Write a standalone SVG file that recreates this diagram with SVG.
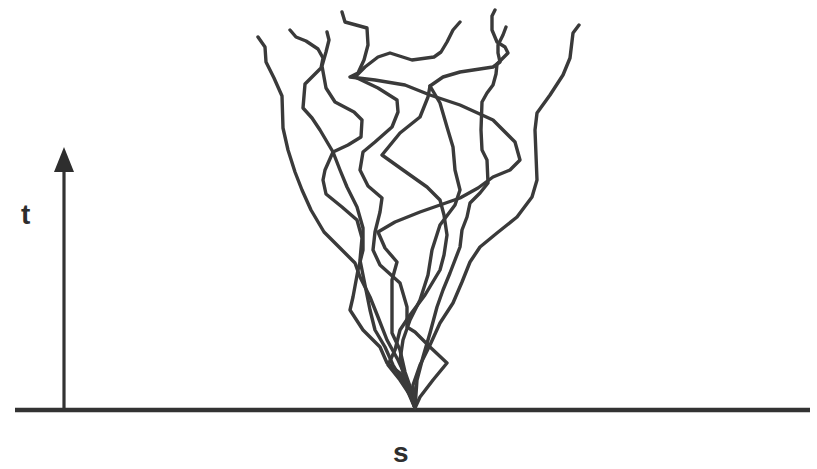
<svg xmlns="http://www.w3.org/2000/svg" width="817" height="469" viewBox="0 0 817 469">
<style>
.w{fill:none;stroke:#3a3a3a;stroke-width:3.4;stroke-linejoin:round;stroke-linecap:round}
.ax{stroke:#333;fill:none}
.lbl{font-family:"Liberation Sans",Arial,sans-serif;font-weight:bold;font-size:28px;fill:#2e2e2e}
</style>
<rect width="817" height="469" fill="#fff"/>
<g id="axes">
<line class="ax" x1="15" y1="410" x2="810" y2="410" stroke-width="4.5"/>
<line class="ax" x1="64" y1="410" x2="64" y2="168" stroke-width="3.2"/>
<polygon points="64,147 54,172 74,172" fill="#2e2e2e"/>
<text class="lbl" x="21" y="224">t</text>
<text class="lbl" x="393" y="462">s</text>
</g>
<g id="walks">
<polyline class="w" points="258,37 265,47 266,62 274,78 282,96 283,128 288,150 295,172 302,190 311,210 324,232 340,248 355,263 360,277 370,297 378,317 387,340 398,360 405,375 410,390 415,408"/>
<polyline class="w" points="290,30 296,37 306,41 318,49 323,58 321,68 305,84 303,108 312,118 320,130 333,152 340,170 347,187 357,207 363,228 363,250 358,270 353,297 350,310 363,330 380,347 387,363 400,373 410,387 415,408"/>
<polyline class="w" points="327,32 329,40 326,52 322,66 326,88 335,102 354,112 362,120 361,137 348,145 333,152 325,170 323,180 326,194 342,207 357,220 362,238 360,260 365,285 370,310 375,330 385,347 393,365 405,385 415,408"/>
<polyline class="w" points="342,12 345,22 367,28 368,45 364,60 358,73 350,77 375,80 405,85 430,95 460,105 493,120 515,142 520,160 510,170 493,177 478,188 460,198 440,205 420,212 395,222 378,232 385,248 397,262 392,280 392,307 392,333 400,350 405,372 412,392 415,408"/>
<polyline class="w" points="460,22 453,30 447,42 441,52 434,57 412,60 390,53 378,57 365,67 355,77 378,88 397,100 398,112 392,127 375,142 363,152 360,170 368,186 382,198 380,212 375,232 373,250 380,265 400,283 407,307 407,327 415,332 430,347 447,363 433,380 420,397 415,408"/>
<polyline class="w" points="495,10 492,16 492,30 497,42 505,47 508,53 503,58 497,64 496,74 493,85 487,93 482,102 481,130 482,150 487,160 488,183 480,193 470,203 467,217 462,230 460,247 450,273 443,290 437,307 430,333 423,357 417,380 415,408"/>
<polyline class="w" points="506,27 503,35 498,45 498,53 500,62 493,67 460,72 443,77 430,86 428,97 420,117 400,133 382,155 403,170 427,187 440,200 444,215 447,235 444,255 440,270 425,295 410,315 400,330 395,350 388,365 400,380 410,395 415,408"/>
<polyline class="w" points="579,25 573,33 570,58 563,75 550,95 537,113 535,130 537,180 532,197 517,217 497,233 480,247 470,262 462,282 453,303 440,323 430,345 420,365 413,385 415,408"/>
<polyline class="w" points="430,86 440,103 447,127 453,147 455,170 460,190 455,205 440,225 432,250 428,275 420,300 410,320 403,340 400,360 405,380 415,408"/>
</g>
</svg>
